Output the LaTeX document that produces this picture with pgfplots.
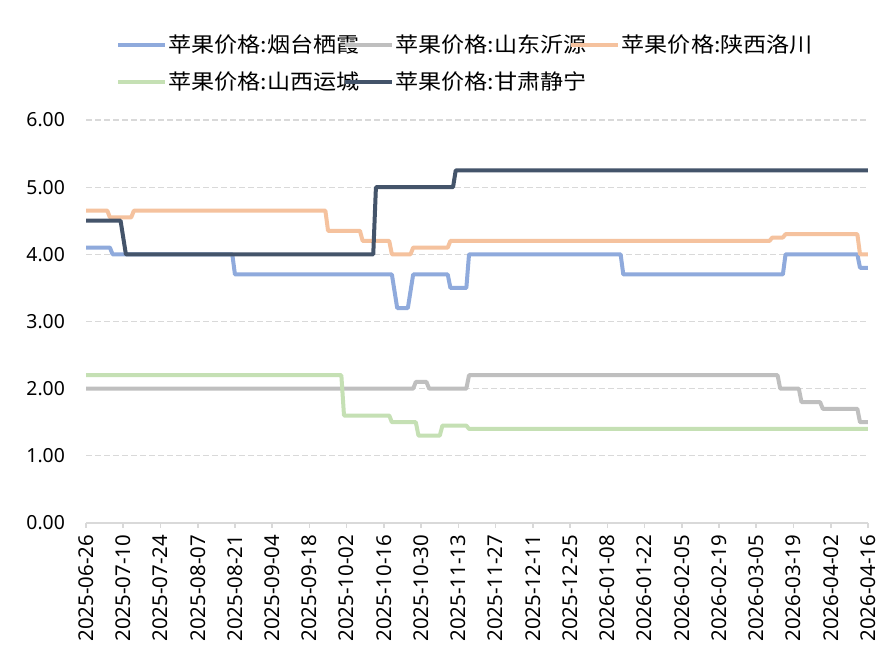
\documentclass[border=0pt]{standalone}
\usepackage{fontspec}
\setmainfont{Noto Sans}
\newfontfamily\cjk{Noto Sans CJK SC}
\usepackage{graphicx}
\usepackage{pgfplots}
\pgfplotsset{compat=1.18}
\definecolor{cBlue}{HTML}{8FAADC}
\definecolor{cGray}{HTML}{BFBFBF}
\definecolor{cOrange}{HTML}{F5C29E}
\definecolor{cGreen}{HTML}{C5E0B4}
\definecolor{cDark}{HTML}{44546A}
\definecolor{cGrid}{HTML}{D9D9D9}
\newcommand{\legtxt}[1]{\makebox[86.5pt][l]{\scalebox{1.1}[1]{#1}}}
\begin{document}
\begin{tikzpicture}
\useasboundingbox (0,0) rectangle (440pt,325.5pt);
\fill[white] (0,0) rectangle (440pt,325.5pt);
\begin{axis}[
  at={(43pt,64pt)}, anchor=south west,
  scale only axis, width=391pt, height=201.5pt,
  xmin=0, xmax=294, ymin=0, ymax=6,
  axis x line*=bottom, axis y line*=left,
  y axis line style={draw=none},
  x axis line style={draw=cGrid, line width=0.8pt, -},
  ytick={0,1,...,6},
  ytick style={draw=none},
  yticklabel style={/pgf/number format/.cd, fixed, fixed zerofill, precision=2, /tikz/.cd, font=\fontsize{9.7pt}{11pt}\selectfont, xshift=-4.5pt},
  xtick={0,14,...,294},
  xticklabels={2025-06-26,2025-07-10,2025-07-24,2025-08-07,2025-08-21,2025-09-04,2025-09-18,2025-10-02,2025-10-16,2025-10-30,2025-11-13,2025-11-27,2025-12-11,2025-12-25,2026-01-08,2026-01-22,2026-02-05,2026-02-19,2026-03-05,2026-03-19,2026-04-02,2026-04-16},
  xticklabel style={rotate=90, anchor=east, font=\fontsize{10.2pt}{12pt}\selectfont},
  tick align=outside,
  xtick style={draw=cGrid, line width=0.8pt},
  major tick length=2.5pt,
  /pgf/number format/assume math mode=true,
  ymajorgrids,
  grid style={draw=cGrid, line width=0.65pt, dash pattern=on 2.8pt off 1.7pt},
  legend style={at={(0.0386,1.217)}, anchor=north west, draw=none, fill=none,
    inner sep=0pt, row sep=6.5pt,
    nodes={inner sep=0.8pt},
    font=\cjk\fontsize{10.5pt}{12.5pt}\selectfont,
    /tikz/every even column/.append style={column sep=0pt}},
  legend columns=3,
  legend cell align=left,
  legend image code/.code={\draw[#1,line width=1.7pt] (0pt,0pt) -- (23.5pt,0pt);},
  every axis plot/.append style={line width=2pt, line join=round, mark=none},
]
\addplot[cBlue] coordinates {(0,4.10) (9,4.10) (10,4.00) (55,4.00) (56,3.70) (115,3.70) (117,3.20) (121,3.20) (123,3.70) (136,3.70) (137,3.50) (143,3.50) (144,4.00) (201,4.00) (202,3.70) (262,3.70) (263,4.00) (290,4.00) (291,3.80) (294,3.80)};
\addlegendentry{\legtxt{苹果价格:烟台栖霞}}
\addplot[cGray] coordinates {(0,2.00) (123,2.00) (124,2.10) (128,2.10) (129,2.00) (143,2.00) (144,2.20) (260,2.20) (261,2.00) (268,2.00) (269,1.80) (276,1.80) (277,1.70) (290,1.70) (291,1.50) (294,1.50)};
\addlegendentry{\legtxt{苹果价格:山东沂源}}
\addplot[cOrange] coordinates {(0,4.65) (8,4.65) (9,4.55) (17,4.55) (18,4.65) (90,4.65) (91,4.35) (103,4.35) (104,4.20) (114,4.20) (115,4.00) (122,4.00) (123,4.10) (136,4.10) (137,4.20) (257,4.20) (258,4.25) (262,4.25) (263,4.30) (290,4.30) (291,4.00) (294,4.00)};
\addlegendentry{\legtxt{苹果价格:陕西洛川}}
\addplot[cGreen] coordinates {(0,2.20) (96,2.20) (97,1.60) (114,1.60) (115,1.50) (124,1.50) (125,1.30) (133,1.30) (134,1.45) (143,1.45) (144,1.40) (294,1.40)};
\addlegendentry{\legtxt{苹果价格:山西运城}}
\addplot[cDark] coordinates {(0,4.50) (13,4.50) (15,4.00) (108,4.00) (109,5.00) (138,5.00) (139,5.25) (294,5.25)};
\addlegendentry{\legtxt{苹果价格:甘肃静宁}}
\end{axis}
\end{tikzpicture}
\end{document}
